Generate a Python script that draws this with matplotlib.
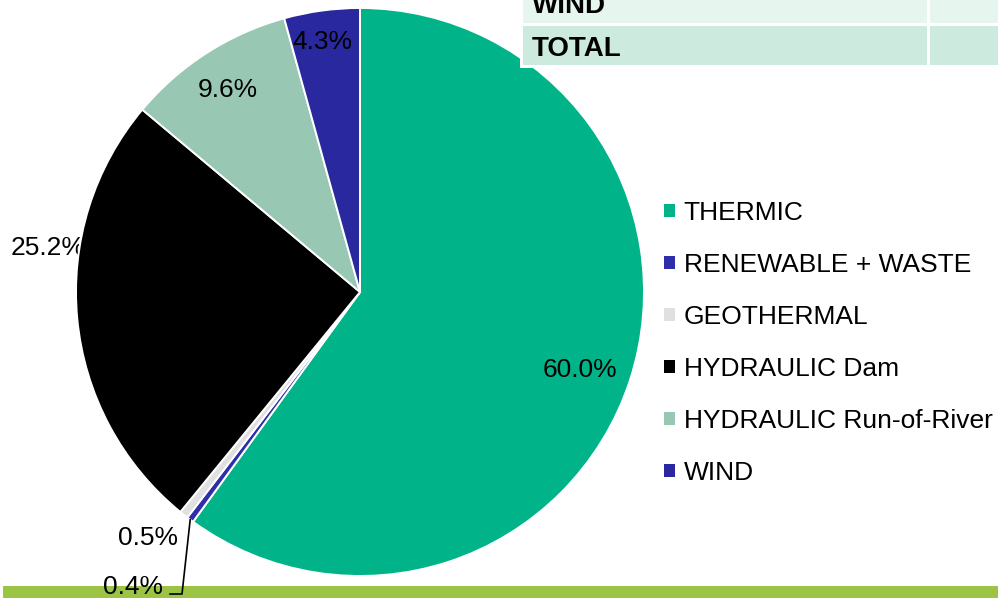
import matplotlib
matplotlib.use('Agg')
import matplotlib.pyplot as plt
from matplotlib.patches import Rectangle, Patch
import numpy as np

# ── Data ──
sources = ['THERMIC', 'RENEWABLE + WASTE', 'GEOTHERMAL', 'HYDRAULIC Dam',
           'HYDRAULIC Run-of-River', 'WIND']
shares = [60.0, 0.4, 0.5, 25.2, 9.6, 4.3]
table_rows = ['WIND', 'TOTAL']

# ── Style ──
colors = ['#00B388', '#2E2DAA', '#E0E0E0', '#000000', '#98C8B3', '#2A289E']
plt.rcParams['font.family'] = ['Liberation Sans', 'DejaVu Sans']
fs = 19

W, H = 998, 598
fig = plt.figure(figsize=(W / 100, H / 100), dpi=100)
ax = fig.add_axes([0, 0, 1, 1])

cx, cy, r = 360, H - 292, 284
wedges, _ = ax.pie(shares, colors=colors, startangle=90, counterclock=False,
                   center=(cx, cy), radius=r,
                   wedgeprops=dict(edgecolor='white', linewidth=1.4))
ax.set_xlim(0, W)
ax.set_ylim(0, H)
ax.set_aspect('equal')
ax.axis('off')

# ── Percentage labels (angle offset in degrees, radial distance) ──
label_pos = [(-1.5, 0.82), None, None, None, (0.5, 0.85), (0.8, 0.89)]
for w, val, p in zip(wedges, shares, label_pos):
    if p is None:
        continue
    mid = np.deg2rad((w.theta1 + w.theta2) / 2 + p[0])
    ax.text(cx + p[1] * r * np.cos(mid), cy + p[1] * r * np.sin(mid), f'{val:.1f}%',
            ha='center', va='center', fontsize=fs, zorder=5)

# outside labels
ax.text(48, H - 248, f'{shares[3]:.1f}%', ha='center', va='center',
        fontsize=fs, zorder=0.5)
ax.text(178, H - 538, f'{shares[2]:.1f}%', ha='right', va='center', fontsize=fs, zorder=5)
ax.text(163, H - 587, f'{shares[1]:.1f}%', ha='right', va='center', fontsize=fs, zorder=6)

# leader line for the smallest slice
w = wedges[1]
mid = np.deg2rad((w.theta1 + w.theta2) / 2)
sx, sy = cx + r * np.cos(mid), cy + r * np.sin(mid)
ax.plot([sx, 182, 170], [sy, H - 594, H - 594], color='black', lw=1.2, zorder=6)

# ── Legend ──
handles = [Patch(facecolor=c, edgecolor='none') for c in colors]
ax.legend(handles, sources, loc='upper left', bbox_to_anchor=(664, H - 201),
          bbox_transform=ax.transData, frameon=False, fontsize=fs,
          handlelength=0.4, handleheight=0.4, handletextpad=0.35,
          labelspacing=1.06, borderpad=0, borderaxespad=0)

# ── Table fragment (top right) ──
ax.add_patch(Rectangle((520, H - 68), W - 520, 68, facecolor='white',
                       edgecolor='none', zorder=7))
row_colors = ['#E6F5EE', '#CCEBDE']
row_spans = [(H - 23, 30), (H - 65, 39)]
text_shift = [2, -3]
for name, rc, (y0, h), dy in zip(table_rows, row_colors, row_spans, text_shift):
    ax.add_patch(Rectangle((523, y0), 404, h, facecolor=rc, edgecolor='none', zorder=8))
    ax.add_patch(Rectangle((930, y0), W - 930, h, facecolor=rc, edgecolor='none', zorder=8))
    ax.text(532, y0 + h / 2 + dy, name, ha='left', va='center',
            fontsize=20, fontweight='bold', zorder=9)

# ── Bottom green band ──
ax.add_patch(Rectangle((3, 0), W - 3, 12, facecolor='#9BC445', edgecolor='none', zorder=4))

fig.savefig('out.png', dpi=100)
